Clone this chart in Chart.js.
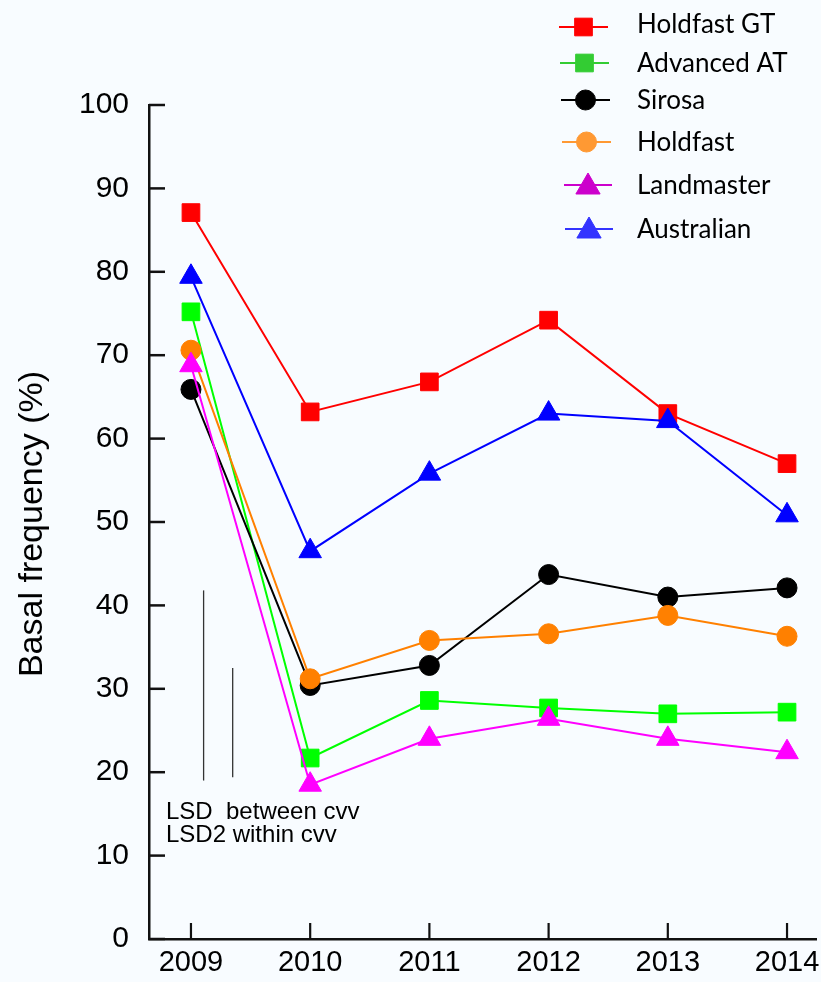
<!DOCTYPE html>
<html>
<head>
<meta charset="utf-8">
<script src="https://cdn.jsdelivr.net/npm/chart.js@4/dist/chart.umd.min.js"></script>
<style>
  html, body { margin: 0; padding: 0; background: #f8fcff; }
  #wrap { width: 821px; height: 982px; }
</style>
</head>
<body>
<div id="wrap"><canvas id="basalChart" width="821" height="982"></canvas></div>
<script>
// values
const years = [2009, 2010, 2011, 2012, 2013, 2014];
const seriesNames = ['Holdfast GT', 'Advanced AT', 'Sirosa', 'Holdfast', 'Landmaster', 'Australian'];
const holdfastGT = [87.1, 63.2, 66.8, 74.2, 63.0, 57.0];
const advancedAT = [75.2, 21.7, 28.6, 27.7, 27.0, 27.2];
const sirosa = [65.9, 30.4, 32.8, 43.7, 41.0, 42.1];
const holdfast = [70.6, 31.2, 35.8, 36.6, 38.8, 36.3];
const landmaster = [68.8, 18.5, 24.0, 26.4, 24.0, 22.4];
const australian = [79.4, 46.5, 55.8, 63.0, 62.1, 50.8];
const yTicks = [0, 10, 20, 30, 40, 50, 60, 70, 80, 90, 100];

// LSD bars (x in years, y in %)
const lsdX = [2009.106, 2009.35];
const lsdLow = [19.0, 19.4];
const lsdHigh = [41.8, 32.5];
const lsdText = ['LSD  between cvv', 'LSD2 within cvv'];

const lineColors = ['#ff0000', '#00ff00', '#000000', '#ff8000', '#ff00ff', '#0000ff'];
const legendColors = ['#ff0000', '#33cc33', '#000000', '#ff9933', '#cc00cc', '#3333ff'];
const styles = ['rect', 'rect', 'circle', 'circle', 'triangle', 'triangle'];
const radii = [12.5, 12.5, 10, 10, 13, 13];
const allValues = [holdfastGT, advancedAT, sirosa, holdfast, landmaster, australian];

const axisFont = "'Liberation Sans', Arial, sans-serif";

const datasets = allValues.map((vals, i) => ({
    label: seriesNames[i],
    data: years.map((y, j) => ({ x: y, y: vals[j] })),
    borderColor: lineColors[i],
    backgroundColor: lineColors[i],
    borderWidth: 2,
    pointStyle: styles[i],
    pointRadius: radii[i],
    pointBorderWidth: 1,
    pointBorderColor: lineColors[i],
    pointBackgroundColor: lineColors[i],
    tension: 0,
    order: 5 - i
}));

const decorPlugin = {
    id: 'decor',
    beforeDraw(chart) {
        const ctx = chart.ctx;
        ctx.save();
        ctx.fillStyle = '#f8fcff';
        ctx.fillRect(0, 0, chart.width, chart.height);
        ctx.restore();
    },
    afterDraw(chart) {
        const ctx = chart.ctx;
        const xs = chart.scales.x;
        const ys = chart.scales.y;
        const area = chart.chartArea;
        ctx.save();

        // inward tick marks
        ctx.strokeStyle = '#111';
        ctx.lineWidth = 2.5;
        yTicks.forEach(v => {
            const py = ys.getPixelForValue(v);
            ctx.beginPath();
            ctx.moveTo(area.left, py);
            ctx.lineTo(area.left + 16, py);
            ctx.stroke();
        });
        ctx.lineWidth = 2.2;
        years.forEach(v => {
            const px = xs.getPixelForValue(v);
            ctx.beginPath();
            ctx.moveTo(px, area.bottom);
            ctx.lineTo(px, area.bottom - 16);
            ctx.stroke();
        });

        // LSD bars
        ctx.strokeStyle = '#333';
        ctx.lineWidth = 1.3;
        lsdX.forEach((v, i) => {
            const px = xs.getPixelForValue(v);
            ctx.beginPath();
            ctx.moveTo(px, ys.getPixelForValue(lsdLow[i]));
            ctx.lineTo(px, ys.getPixelForValue(lsdHigh[i]));
            ctx.stroke();
        });
        ctx.fillStyle = '#000';
        ctx.font = '24px ' + axisFont;
        ctx.textAlign = 'left';
        ctx.textBaseline = 'alphabetic';
        ctx.fillText(lsdText[0], 166, 819);
        ctx.fillText(lsdText[1], 166, 842);

        // y axis title
        ctx.save();
        ctx.translate(42, 524);
        ctx.rotate(-Math.PI / 2);
        ctx.font = '34px ' + axisFont;
        ctx.textAlign = 'center';
        ctx.fillText('Basal frequency (%)', 0, 0);
        ctx.restore();

        // legend
        const rowY = [27, 63, 100, 142, 185, 229];
        const lineX0 = [559, 560, 561, 562, 564, 565];
        const lineX1 = [608, 609, 610, 611, 612, 613];
        ctx.font = "26px Lato, 'Open Sans', sans-serif";
        seriesNames.forEach((name, i) => {
            const y = rowY[i];
            ctx.strokeStyle = legendColors[i];
            ctx.lineWidth = 2;
            ctx.beginPath();
            ctx.moveTo(lineX0[i], y);
            ctx.lineTo(lineX1[i], y);
            ctx.stroke();
            ctx.fillStyle = legendColors[i];
            ctx.lineWidth = 1;
            const my = styles[i] === 'triangle' ? y + 2 : y;
            Chart.helpers.drawPoint(ctx, {
                pointStyle: styles[i], radius: styles[i] === 'triangle' ? 14 : radii[i],
                rotation: 0, borderWidth: 1
            }, (lineX0[i] + lineX1[i]) / 2, my);
            ctx.fillStyle = '#000';
            ctx.textBaseline = 'alphabetic';
            ctx.fillText(name, 637, y + 6 + (i === 0 ? 0 : 3));
        });
        ctx.restore();
    }
};

const ctx = document.getElementById('basalChart').getContext('2d');
const basalChart = new Chart(ctx, {
    type: 'line',
    data: { datasets: datasets },
    options: {
        responsive: false,
        animation: false,
        layout: { autoPadding: false, padding: { left: 0, top: 105, right: 5, bottom: 0 } },
        plugins: { legend: { display: false }, tooltip: { enabled: false } },
        scales: {
            x: {
                type: 'linear',
                min: 2008.648,
                max: 2014.243,
                afterBuildTicks: (scale) => { scale.ticks = years.map(v => ({ value: v })); },
                afterFit: (scale) => {
                    scale.height = 43;
                    scale.paddingLeft = 0;
                    scale.paddingRight = 0;
                },
                grid: { display: true, drawOnChartArea: false, drawTicks: false },
                border: { display: true, color: '#111', width: 2.5 },
                ticks: {
                    padding: 7,
                    color: '#000',
                    font: { family: axisFont, size: 29 },
                    maxRotation: 0,
                    callback: (v) => String(v)
                }
            },
            y: {
                min: 0,
                max: 100,
                afterFit: (scale) => {
                    scale.width = 149;
                    scale.paddingTop = 0;
                    scale.paddingBottom = 0;
                },
                grid: { display: true, drawOnChartArea: false, drawTicks: false },
                border: { display: true, color: '#111', width: 2.5 },
                ticks: {
                    stepSize: 10,
                    padding: 20,
                    color: '#000',
                    font: { family: axisFont, size: 30 }
                }
            }
        }
    },
    plugins: [decorPlugin]
});
</script>
</body>
</html>
